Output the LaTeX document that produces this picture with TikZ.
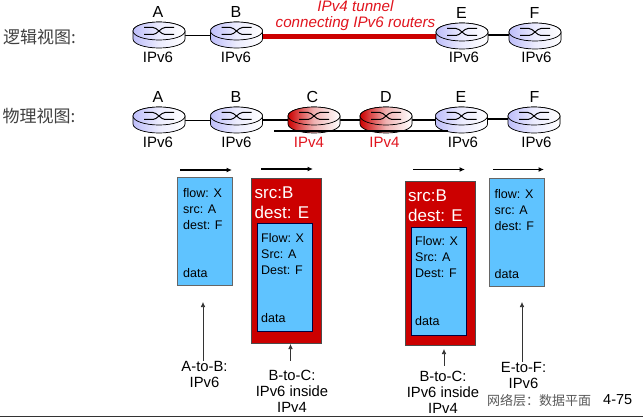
\documentclass[tikz,border=0pt]{standalone}
\usepackage{fontspec}
\setmainfont{Liberation Sans}
\newfontfamily\cjk{Noto Sans CJK SC}
\usetikzlibrary{arrows.meta}
\definecolor{tred}{RGB}{204,0,0}
\definecolor{pktblue}{RGB}{95,195,255}
\definecolor{rblue}{RGB}{190,190,250}
\definecolor{labred}{RGB}{225,20,30}
\tikzset{
  x=1pt,y=-1pt,
  lbl/.style={inner sep=0pt,font=\fontsize{16}{16}\selectfont},
  tag/.style={inner sep=0pt,font=\fontsize{15}{15}\selectfont},
  redtag/.style={tag,text=labred},
  cnlabel/.style={inner sep=0pt,text=black!75,font=\fontsize{17}{17}\cjk},
  wire/.style={line width=1.8pt,black},
  tunnel/.style={line width=5pt,tred},
  flowarrow/.style={line width=1.1pt,-{Latex[length=5.5pt,width=5pt]}},
  uparrow/.style={line width=.6pt,black!80,-{Latex[length=5pt,width=4.5pt]}},
  outerpkt/.style={fill=tred,draw=black!70,line width=.6pt,minimum width=70pt,inner sep=0pt},
  innerpkt/.style={fill=pktblue,draw=black!75!blue,line width=.7pt,inner sep=0pt},
  pkttext/.style={inner sep=0pt,anchor=west,font=\fontsize{12.5}{13}\selectfont},
  hdrtext/.style={inner sep=0pt,anchor=west,text=white,font=\fontsize{17}{17}\selectfont},
  captxt/.style={inner sep=0pt,align=center,font=\fontsize{14.8}{16}\selectfont}
}
% #1 name, #2 x, #3 y of top-ellipse centre, #4 left colour
\newcommand{\router}[4]{%
  \coordinate (#1) at (#2,#3+4);
  \fill[left color=#4,right color=white,middle color=#4!30!white,draw=black,line width=.7pt]
    (#2-26,#3) -- (#2-26,#3+8) arc[start angle=180,end angle=360,x radius=26pt,y radius=9pt]
    -- (#2+26,#3) arc[start angle=0,end angle=180,x radius=26pt,y radius=9pt] -- cycle;
  \fill[left color=#4,right color=white,middle color=#4!30!white,draw=black,line width=.7pt]
    (#2,#3) ellipse[x radius=26pt,y radius=9pt];
  \draw[line width=1pt,black] (#2-15,#3-3.5) -- (#2-6,#3-3.5) .. controls (#2-2,#3-3.5) and (#2+2,#3+3.5) .. (#2+6,#3+3.5) -- (#2+15,#3+3.5);
  \draw[line width=1pt,black] (#2-15,#3+3.5) -- (#2-6,#3+3.5) .. controls (#2-2,#3+3.5) and (#2+2,#3-3.5) .. (#2+6,#3-3.5) -- (#2+15,#3-3.5);
}
\begin{document}
\begin{tikzpicture}
\useasboundingbox (0,0) rectangle (643,417);
\fill[white] (0,0) rectangle (643,417);
% logical view
\coordinate (a1c) at (185,35.6); \coordinate (b1c) at (210,35.6);
\coordinate (b1t) at (263,36.5); \coordinate (e1t) at (436,36.5);
\coordinate (e1c) at (488,34.7); \coordinate (f1c) at (509,34.7);
\draw[wire] (a1c) -- (b1c);
\draw[tunnel] (b1t) -- (e1t);
\draw[wire] (e1c) -- (f1c);
\router{ra1}{159}{31}{rblue}
\router{rb1}{236.5}{31}{rblue}
\router{re1}{462}{32}{rblue}
\router{rf1}{535}{32}{rblue}
\node[cnlabel,anchor=west] (lv) at (3,37) {逻辑视图:};
\node[lbl] (la1) at (158,11.5) {A};
\node[lbl] (lb1) at (236,11.5) {B};
\node[lbl] (le1) at (461.5,12.5) {E};
\node[lbl] (lf1) at (534.5,12.5) {F};
\node[tag] (ta1) at (158,57.5) {IPv6};
\node[tag] (tb1) at (236,57.5) {IPv6};
\node[tag] (te1) at (464,57.5) {IPv6};
\node[tag] (tf1) at (536.5,57.5) {IPv6};
\node[inner sep=0pt,align=center,text=labred,font=\itshape\fontsize{15.2}{16}\selectfont] (tn) at (355.5,15.5) {IPv4 tunnel\\connecting IPv6 routers};
% physical view
\coordinate (a2c) at (185,120.5); \coordinate (b2c) at (210,120.5);
\coordinate (b2d) at (263,120); \coordinate (c2c) at (288,120);
\coordinate (c2d) at (340,120); \coordinate (d2c) at (360,120);
\coordinate (d2d) at (412,120); \coordinate (e2c) at (435,120);
\coordinate (e2d) at (487,119); \coordinate (f2c) at (508,119);
\coordinate (un1) at (274,131); \coordinate (un2) at (448,131);
\draw[wire] (a2c) -- (b2c);
\draw[wire] (b2d) -- (c2c);
\draw[wire] (c2d) -- (d2c);
\draw[wire] (d2d) -- (e2c);
\draw[wire] (e2d) -- (f2c);
\router{ra2}{159}{116}{rblue}
\router{rb2}{236.5}{116}{rblue}
\router{rc2}{314}{116}{tred}
\router{rd2}{386}{116}{tred}
\router{re2}{461.5}{116}{rblue}
\router{rf2}{534}{116}{rblue}
\draw[wire] (un1) -- (un2);
\node[cnlabel,anchor=west] (pv) at (2.5,116) {物理视图:};
\node[lbl] (la2) at (158,97) {A};
\node[lbl] (lb2) at (236,97) {B};
\node[lbl] (lc2) at (312.5,97) {C};
\node[lbl] (ld2) at (386,97) {D};
\node[lbl] (le2) at (461,97) {E};
\node[lbl] (lf2) at (534.5,97) {F};
\node[tag] (ta2) at (158,142.5) {IPv6};
\node[tag] (tb2) at (236.5,142.5) {IPv6};
\node[redtag] (tc2) at (309,142.5) {IPv4};
\node[redtag] (td2) at (384.5,142.5) {IPv4};
\node[tag] (te2) at (463,142.5) {IPv6};
\node[tag] (tf2) at (536.5,142.5) {IPv6};
% flow arrows
\foreach \n/\xa/\xb/\yy in {f1/180/232/170,f2/261/313/169,f3/413/465/169.5,f4/493/544/169.5}{
  \coordinate (\n s) at (\xa,\yy); \coordinate (\n e) at (\xb,\yy);
  \draw[flowarrow] (\n s) -- (\n e);
}
% packet 1
\node[innerpkt,minimum width=55pt,minimum height=108.5pt,draw=black!60] (p1) at (204.5,231.5) {};
\node[pkttext] (p1a) at (183,193.5) {flow: X};
\node[pkttext] (p1b) at (183,209.5) {src: A};
\node[pkttext] (p1c) at (183,225.5) {dest: F};
\node[pkttext] (p1d) at (183,273.5) {data};
% packet 2
\node[outerpkt,minimum height=165pt] (p2) at (286,260.5) {};
\node[hdrtext] (p2a) at (254.5,192.5) {src:B};
\node[hdrtext] (p2b) at (254.5,212.5) {dest: E};
\node[innerpkt,minimum width=55pt,minimum height=108pt] (p2i) at (284.5,277) {};
\node[pkttext] (p2c) at (261,238.5) {Flow: X};
\node[pkttext] (p2d) at (261,254.5) {Src: A};
\node[pkttext] (p2e) at (261,270) {Dest: F};
\node[pkttext] (p2f) at (261,318.5) {data};
% packet 3
\node[outerpkt,minimum height=164pt] (p3) at (440,263) {};
\node[hdrtext] (p3a) at (408,195.5) {src:B};
\node[hdrtext] (p3b) at (408,215.5) {dest: E};
\node[innerpkt,minimum width=55pt,minimum height=108pt] (p3i) at (438.5,281) {};
\node[pkttext] (p3c) at (415,241.5) {Flow: X};
\node[pkttext] (p3d) at (415,257.5) {Src: A};
\node[pkttext] (p3e) at (415,273) {Dest: F};
\node[pkttext] (p3f) at (415,321.5) {data};
% packet 4
\node[innerpkt,minimum width=55pt,minimum height=108.5pt,draw=black!60] (p4) at (516.5,232.2) {};
\node[pkttext] (p4a) at (494.5,194.5) {flow: X};
\node[pkttext] (p4b) at (494.5,210.5) {src: A};
\node[pkttext] (p4c) at (494.5,226.5) {dest: F};
\node[pkttext] (p4d) at (494.5,274.5) {data};
% captions
\node[captxt] (c1) at (204.5,374) {A-to-B:\\IPv6};
\node[captxt] (c2) at (292,391) {B-to-C:\\IPv6 inside\\IPv4};
\node[captxt] (c3) at (443,392) {B-to-C:\\IPv6 inside\\IPv4};
\node[captxt] (c4) at (523.5,375) {E-to-F:\\IPv6};
\coordinate (u1) at (203,302); \coordinate (u2) at (290.5,344);
\coordinate (u3) at (444,349); \coordinate (u4) at (522,302);
\draw[uparrow] (c1.north -| u1) -- (u1);
\draw[uparrow] ([yshift=9pt]c2.north -| u2) -- (u2);
\draw[uparrow] ([yshift=5pt]c3.north -| u3) -- (u3);
\draw[uparrow] (c4.north -| u4) -- (u4);
% footer
\node[inner sep=0pt,anchor=west,text=black!65,font=\fontsize{13}{13}\cjk] (ft) at (487,401) {网络层\char"FF1A 数据平面};
\node[inner sep=0pt,anchor=west,font=\fontsize{14.5}{14.5}\selectfont] (pg) at (603,400) {4-75};
\coordinate (b1) at (0,416.5); \coordinate (b2) at (643,416.5);
\draw[line width=1pt,black!80] (b1) -- (b2);
\end{tikzpicture}
\end{document}
